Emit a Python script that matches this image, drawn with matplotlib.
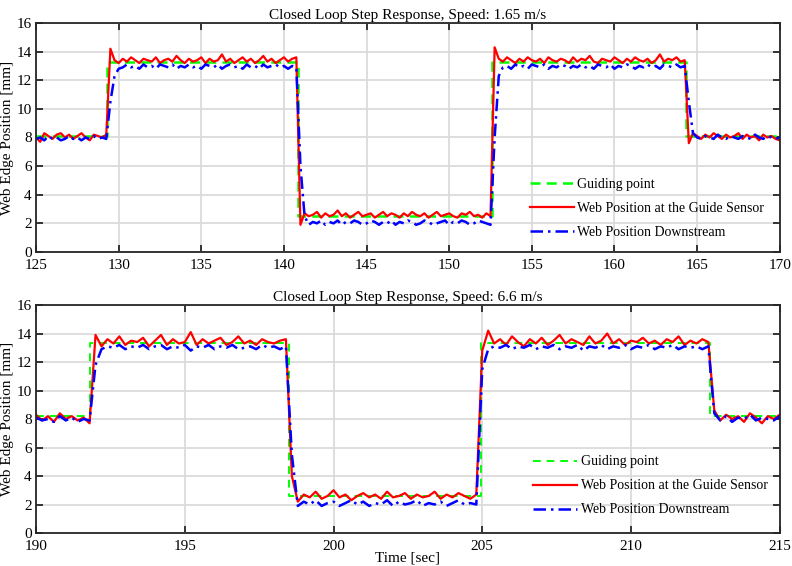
import numpy as np
import matplotlib
matplotlib.use("Agg")
import matplotlib.pyplot as plt

plt.rcParams['font.family'] = ['Liberation Serif', 'DejaVu Serif']
plt.rcParams['font.size'] = 11

# ---- top run, speed 1.65 m/s (samples every 0.25 s) ----
t_top = np.arange(125, 170.001, 0.25)
guide_t_top = [125, 129.3, 140.85, 152.6, 164.3, 170]
guide_v_top = [8.1, 13.3, 2.5, 13.3, 8.1, 8.1]
red_top = [
    8.0, 7.7, 8.3, 8.1, 7.9, 8.2, 8.3, 8.0, 8.2, 7.9,
    8.1, 8.3, 8.0, 7.8, 8.2, 8.1, 8.0, 8.2,
    14.2, 13.4, 13.2, 13.5, 13.3, 13.6, 13.4, 13.2, 13.5, 13.4,
    13.3, 13.6, 13.2, 13.4, 13.5, 13.3, 13.7, 13.4, 13.2, 13.5,
    13.3, 13.4, 13.6, 13.2, 13.5, 13.3, 13.4, 13.8, 13.3, 13.5,
    13.2, 13.4, 13.6, 13.3, 13.5, 13.2, 13.4, 13.7, 13.3, 13.5,
    13.2, 13.4, 13.6, 13.3, 13.5, 13.6,
    1.9, 2.7, 2.5, 2.6, 2.8, 2.4, 2.7, 2.5, 2.6, 2.9,
    2.5, 2.7, 2.4, 2.6, 2.8, 2.5, 2.6, 2.7, 2.4, 2.6,
    2.8, 2.5, 2.7, 2.6, 2.4, 2.7, 2.5, 2.8, 2.6, 2.5,
    2.7, 2.4, 2.6, 2.8, 2.5, 2.6, 2.7, 2.5, 2.4, 2.7,
    2.6, 2.8, 2.5, 2.6, 2.4, 2.7, 2.5,
    14.3, 13.5, 13.3, 13.6, 13.4, 13.2, 13.5, 13.3, 13.6, 13.4,
    13.3, 13.5, 13.2, 13.6, 13.4, 13.3, 13.5, 13.4, 13.2, 13.6,
    13.3, 13.5, 13.4, 13.7, 13.3, 13.2, 13.5, 13.4, 13.3, 13.6,
    13.4, 13.2, 13.5, 13.3, 13.6, 13.4, 13.3, 13.5, 13.2, 13.4,
    13.8, 13.3, 13.5, 13.4, 13.6, 13.3, 13.4,
    7.6, 8.3, 8.1, 7.9, 8.2, 8.0, 8.3, 8.1, 7.9, 8.2,
    8.0, 8.1, 8.3, 7.9, 8.2, 8.0, 8.1, 7.8, 8.2, 8.0,
    8.1, 7.9, 7.8]
blue_top = [
    7.9, 8.0, 7.8, 8.1, 7.9, 8.0, 7.8, 7.9, 8.1, 7.9,
    8.0, 7.8, 8.0, 7.9, 8.1, 7.9, 8.0, 7.9,
    10.5, 12.3, 12.8, 12.9, 13.1, 12.9, 13.0, 12.8, 13.1, 12.9,
    13.0, 12.8, 13.1, 13.0, 12.9, 13.1, 12.8, 13.0, 12.9, 13.1,
    12.9, 13.0, 12.8, 13.1, 13.0, 12.9, 13.1, 12.8, 13.0, 13.1,
    12.9, 13.0, 12.8, 13.1, 12.9, 13.0, 12.8, 13.1, 12.9, 13.0,
    13.1, 12.9, 13.0, 12.8, 13.0, 12.9,
    6.0, 2.5, 1.9, 2.1, 2.0, 2.2, 1.9, 2.1, 2.0, 2.2,
    1.9, 2.1, 2.0, 2.2, 2.1, 1.9, 2.0, 2.2, 2.1, 1.9,
    2.1, 2.0, 2.2, 1.9, 2.1, 2.0, 2.2, 2.1, 1.9, 2.0,
    2.2, 2.1, 1.9, 2.0, 2.1, 2.2, 1.9, 2.1, 2.0, 2.2,
    2.1, 1.9, 2.0, 2.2, 2.1, 2.0, 1.9,
    8.0, 12.3, 12.9, 13.0, 12.8, 13.1, 12.9, 13.0, 12.8, 13.1,
    13.0, 12.9, 13.1, 12.8, 13.0, 12.9, 13.1, 13.0, 12.8, 13.0,
    12.9, 13.1, 12.9, 13.0, 12.8, 13.1, 13.0, 12.9, 13.1, 12.8,
    13.0, 12.9, 13.1, 13.0, 12.8, 13.0, 12.9, 13.1, 12.9, 13.0,
    12.8, 13.1, 13.0, 12.9, 13.1, 12.9, 13.0,
    10.5, 8.3, 8.0, 7.9, 8.1, 8.0, 7.9, 8.2, 8.0, 7.9,
    8.1, 8.0, 7.9, 8.1, 8.0, 7.9, 8.2, 8.0, 7.9, 8.1,
    8.0, 7.9, 8.0]

# ---- bottom run, speed 6.6 m/s (samples every 0.2 s) ----
t_bot = np.arange(190, 215.001, 0.2)
guide_t_bot = [190, 191.8, 198.5, 204.95, 212.65, 215]
guide_v_bot = [8.2, 13.3, 2.6, 13.3, 8.2, 8.2]
red_bot = [
    8.3, 7.9, 8.2, 7.8, 8.4, 8.0, 8.2, 7.9, 8.1, 7.7,
    13.9, 13.1, 13.6, 13.3, 13.8, 13.2, 13.5, 13.4, 13.7, 13.1,
    13.5, 13.9, 13.2, 13.6, 13.3, 13.4, 14.1, 13.2, 13.6, 13.3,
    13.5, 13.7, 13.2, 13.4, 13.8, 13.3, 13.5, 13.2, 13.6, 13.4,
    13.3, 13.5, 13.6,
    4.0, 2.2, 2.7, 2.5, 2.9, 2.4, 2.6, 3.0, 2.5, 2.7,
    2.3, 2.6, 2.8, 2.5, 2.7, 2.4, 2.9, 2.5, 2.6, 2.8,
    2.4, 2.7, 2.5, 2.6, 2.9, 2.4, 2.7, 2.5, 2.8, 2.6,
    2.4, 2.7,
    12.8, 14.2, 13.3, 13.6, 13.2, 13.8, 13.4, 13.1, 13.6, 13.3,
    13.7, 13.2, 13.5, 13.9, 13.3, 13.6, 13.4, 13.2, 13.8, 13.3,
    13.5, 14.0, 13.3, 13.6, 13.2, 13.5, 13.4, 13.7, 13.3, 13.5,
    13.2, 13.6, 13.4, 13.8, 13.2, 13.5, 13.3, 13.6, 13.4,
    8.6, 7.9, 8.3, 8.0, 8.2, 7.8, 8.4, 8.1, 7.7, 8.2,
    8.0, 8.3]
blue_bot = [
    8.1, 7.9, 8.0, 7.8, 8.2, 7.9, 8.1, 7.8, 8.0, 7.9,
    11.8, 12.9, 13.1, 13.0, 13.2, 12.9, 13.1, 13.0, 13.2, 12.9,
    13.1, 13.2, 12.9, 13.1, 13.0, 13.2, 12.8, 13.1, 13.0, 13.2,
    12.9, 13.1, 13.0, 13.2, 12.9, 13.0, 13.1, 12.9, 13.2, 13.0,
    13.1, 12.9, 13.1,
    5.5, 1.9, 2.2, 2.0, 2.3, 1.9, 2.1, 2.2, 1.9, 2.1,
    2.3, 2.0, 2.2, 1.9, 2.1, 2.0, 2.3, 1.9, 2.2, 2.0,
    2.1, 2.3, 1.9, 2.1, 2.0, 2.2, 1.9, 2.1, 2.3, 2.0,
    2.1, 2.0,
    11.5, 12.9, 13.1, 13.0, 13.2, 12.9, 13.1, 13.0, 13.2, 12.9,
    13.1, 13.0, 13.2, 12.9, 13.1, 13.0, 13.2, 12.8, 13.1, 13.0,
    13.2, 12.9, 13.1, 13.0, 13.2, 12.9, 13.1, 13.0, 13.2, 12.9,
    13.1, 13.0, 13.2, 12.9, 13.1, 13.0, 13.1, 12.9, 13.1,
    8.4, 7.9, 8.2, 7.8, 8.1, 8.0, 8.3, 7.9, 8.1, 8.0,
    7.9, 8.2]

labels = ['Guiding point', 'Web Position at the Guide Sensor', 'Web Position Downstream']
titles = ['Closed Loop Step Response, Speed: 1.65 m/s', 'Closed Loop Step Response, Speed: 6.6 m/s']


def style_axes(ax, xlim, xticks):
    ax.set_xlim(xlim)
    ax.set_ylim(0, 16)
    ax.set_xticks(xticks)
    ax.set_yticks(range(0, 17, 2))
    ax.grid(True, color='#d8d8d8', lw=1.2)
    ax.set_axisbelow(True)
    ax.tick_params(direction='in', top=True, right=True, length=5, width=1.3,
                   color='#262626', labelsize=11)
    ax.tick_params(axis='x', pad=5)
    ax.tick_params(axis='y', pad=3)
    for s in ax.spines.values():
        s.set_color('#262626')
        s.set_linewidth(1.3)
    ax.set_ylabel('Web Edge Position [mm]', fontsize=11)
    # right edge of the rotated label sits just left of the tick labels
    ax.yaxis.set_label_coords(-0.0295, 0.5)


fig = plt.figure(figsize=(7.92, 5.66), dpi=100)

ax1 = fig.add_axes([0.0455, 0.5548, 0.939, 0.4046])
ax1.plot(guide_t_top, guide_v_top, drawstyle='steps-post', color='#00ff00', ls=(0, (4, 2.5)), lw=1.8, label=labels[0])
ax1.plot(t_top, red_top, color='#ff0000', lw=1.6, label=labels[1])
ax1.plot(t_top, blue_top, color='#0000ff', ls=(0, (5, 2, 1, 2)), lw=1.8, label=labels[2])
style_axes(ax1, (125, 170), range(125, 171, 5))
ax1.set_title(titles[0], fontsize=11, pad=3)
ax1.legend(loc='upper left', bbox_to_anchor=(0.664, 0.325), frameon=False, fontsize=10,
           handlelength=3.2, handletextpad=0.2, labelspacing=0.79, borderpad=0, borderaxespad=0)

ax2 = fig.add_axes([0.0455, 0.0583, 0.939, 0.4028])
ax2.plot(guide_t_bot, guide_v_bot, drawstyle='steps-post', color='#00ff00', ls=(0, (4, 3)), lw=1.4, label=labels[0])
ax2.plot(t_bot, red_bot, color='#ff0000', lw=1.6, label=labels[1])
ax2.plot(t_bot, blue_bot, color='#0000ff', ls=(0, (5, 2, 1, 2)), lw=1.8, label=labels[2])
style_axes(ax2, (190, 215), range(190, 216, 5))
ax2.set_title(titles[1], fontsize=11, pad=3)
ax2.set_xlabel('Time [sec]', fontsize=11, labelpad=-1)
ax2.legend(loc='upper left', bbox_to_anchor=(0.668, 0.34), frameon=False, fontsize=10,
           handlelength=3.2, handletextpad=0.3, labelspacing=0.79, borderpad=0, borderaxespad=0)

fig.savefig('out.png', dpi=100)
